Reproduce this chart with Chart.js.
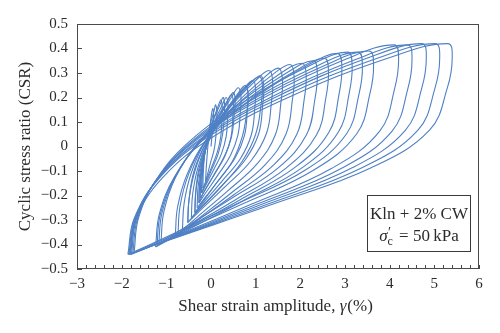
<!DOCTYPE html>
<html>
<head>
<meta charset="utf-8">
<script src="https://cdn.jsdelivr.net/npm/chart.js@4.4.1/dist/chart.umd.min.js"></script>
<style>
  html, body { margin: 0; padding: 0; background: #fff; }
  #wrap { width: 500px; height: 333px; }
</style>
</head>
<body>
<div id="wrap"><canvas id="c" width="500" height="333"></canvas></div>
<script>
// Undrained cyclic test, Kln + 2% CW at 50 kPa: CSR vs shear strain (%).
// Each cycle: negative peak, loading branch, positive peak, unloading branch.
const cycle00 = [[0.0,0.0],[0.03,0.06],[0.05,0.11],[0.055,0.14],[0.04,0.155],[0.01,0.13],[-0.03,0.07],[-0.07,0.0],[-0.1,-0.07],[-0.115,-0.115]];
const cycle01 = [[-0.12,-0.14],[-0.08,-0.115],[-0.01,-0.066],[0.07,-0.013],[0.11,0.043],[0.126,0.105],[0.13,0.148],[0.10,0.17],[0.07,0.146],[-0.025,0.085],[-0.10,0.017],[-0.15,-0.048],[-0.174,-0.112]];
const cycle02 = [[-0.18,-0.17],[-0.115,-0.141],[0.014,-0.084],[0.143,-0.022],[0.22,0.042],[0.244,0.114],[0.25,0.165],[0.22,0.19],[0.158,0.163],[0.02,0.095],[-0.095,0.019],[-0.164,-0.053],[-0.2,-0.125]];
const cycle02b = [[-0.21,-0.19],[-0.14,-0.16],[0.0,-0.1],[0.16,-0.03],[0.26,0.05],[0.3,0.13],[0.3,0.18],[0.27,0.2],[0.2,0.17],[0.04,0.1],[-0.09,0.02],[-0.17,-0.07],[-0.205,-0.15]];
const cycle03 = [[-0.21,-0.19],[-0.121,-0.159],[0.056,-0.096],[0.233,-0.03],[0.339,0.04],[0.371,0.118],[0.38,0.173],[0.34,0.20],[0.256,0.171],[0.07,0.098],[-0.085,0.016],[-0.178,-0.062],[-0.228,-0.14]];
const cycle04 = [[-0.24,-0.21],[-0.129,-0.176],[0.093,-0.109],[0.315,-0.038],[0.448,0.038],[0.489,0.122],[0.50,0.181],[0.45,0.21],[0.346,0.179],[0.115,0.10],[-0.078,0.012],[-0.193,-0.072],[-0.255,-0.155]];
const cycle04b = [[-0.27,-0.23],[-0.17,-0.19],[0.05,-0.12],[0.3,-0.04],[0.46,0.04],[0.52,0.13],[0.54,0.19],[0.5,0.22],[0.38,0.19],[0.12,0.11],[-0.08,0.02],[-0.2,-0.08],[-0.26,-0.17]];
const cycle05 = [[-0.27,-0.23],[-0.129,-0.192],[0.153,-0.117],[0.435,-0.037],[0.604,0.047],[0.656,0.141],[0.67,0.207],[0.61,0.24],[0.474,0.206],[0.18,0.118],[-0.065,0.02],[-0.212,-0.074],[-0.29,-0.167]];
const cycle06 = [[-0.31,-0.25],[-0.139,-0.21],[0.203,-0.13],[0.545,-0.045],[0.75,0.045],[0.813,0.145],[0.83,0.215],[0.77,0.25],[0.592,0.214],[0.235,0.12],[-0.062,0.016],[-0.241,-0.083],[-0.336,-0.182]];
const cycle06b = [[-0.36,-0.27],[-0.2,-0.23],[0.12,-0.15],[0.48,-0.06],[0.7,0.04],[0.8,0.14],[0.83,0.21],[0.78,0.245],[0.6,0.21],[0.22,0.12],[-0.07,0.02],[-0.27,-0.09],[-0.35,-0.2]];
const cycle07 = [[-0.36,-0.27],[-0.156,-0.227],[0.252,-0.14],[0.66,-0.049],[0.905,0.049],[0.98,0.157],[1.0,0.232],[0.94,0.27],[0.712,0.231],[0.28,0.13],[-0.08,0.018],[-0.296,-0.088],[-0.411,-0.195]];
const cycle08 = [[-0.44,-0.29],[-0.197,-0.244],[0.289,-0.151],[0.775,-0.052],[1.067,0.052],[1.156,0.168],[1.18,0.249],[1.11,0.29],[0.84,0.248],[0.33,0.14],[-0.095,0.02],[-0.35,-0.094],[-0.486,-0.208]];
const cycle08b = [[-0.52,-0.31],[-0.3,-0.265],[0.2,-0.17],[0.7,-0.06],[1.0,0.05],[1.12,0.17],[1.15,0.25],[1.08,0.285],[0.8,0.245],[0.3,0.14],[-0.1,0.02],[-0.38,-0.1],[-0.5,-0.23]];
const cycle09 = [[-0.52,-0.31],[-0.235,-0.26],[0.335,-0.161],[0.905,-0.056],[1.247,0.056],[1.352,0.18],[1.38,0.267],[1.30,0.31],[0.976,0.265],[0.37,0.148],[-0.135,0.018],[-0.438,-0.106],[-0.6,-0.229]];
const cycle10 = [[-0.64,-0.34],[-0.304,-0.287],[0.368,-0.182],[1.04,-0.069],[1.443,0.049],[1.566,0.181],[1.60,0.274],[1.51,0.32],[1.132,0.272],[0.43,0.15],[-0.155,0.014],[-0.506,-0.115],[-0.693,-0.244]];
const cycle11 = [[-0.74,-0.36],[-0.35,-0.304],[0.43,-0.193],[1.21,-0.075],[1.678,0.05],[1.821,0.189],[1.86,0.286],[1.77,0.335],[1.328,0.286],[0.53,0.16],[-0.135,0.02],[-0.534,-0.113],[-0.747,-0.246]];
const cycle12 = [[-0.80,-0.365],[-0.36,-0.309],[0.519,-0.196],[1.398,-0.076],[1.925,0.051],[2.086,0.192],[2.13,0.291],[2.04,0.34],[1.48,0.289],[0.505,0.158],[-0.308,0.012],[-0.795,-0.127],[-1.055,-0.266]];
const cycle13 = [[-1.12,-0.39],[-0.595,-0.331],[0.455,-0.212],[1.505,-0.087],[2.135,0.047],[2.328,0.195],[2.38,0.298],[2.29,0.35],[1.67,0.298],[0.605,0.163],[-0.283,0.013],[-0.815,-0.13],[-1.099,-0.272]];
const cycle14 = [[-1.17,-0.40],[-0.6,-0.339],[0.54,-0.218],[1.68,-0.088],[2.364,0.048],[2.573,0.2],[2.63,0.307],[2.54,0.36],[1.862,0.306],[0.71,0.169],[-0.25,0.016],[-0.826,-0.13],[-1.133,-0.275]];
const cycle15 = [[-1.21,-0.405],[-0.589,-0.342],[0.653,-0.217],[1.895,-0.083],[2.64,0.058],[2.868,0.215],[2.93,0.325],[2.83,0.38],[2.096,0.325],[0.845,0.183],[-0.198,0.025],[-0.823,-0.126],[-1.157,-0.276]];
const cycle16 = [[-1.24,-0.41],[-0.58,-0.346],[0.74,-0.219],[2.06,-0.084],[2.852,0.059],[3.094,0.218],[3.16,0.329],[3.06,0.385],[2.184,0.328],[0.72,0.181],[-0.5,0.018],[-1.232,-0.137],[-1.622,-0.291]];
const cycle17 = [[-1.72,-0.43],[-0.953,-0.365],[0.58,-0.234],[2.113,-0.096],[3.032,0.051],[3.313,0.214],[3.39,0.328],[3.29,0.385],[2.362,0.328],[0.82,0.18],[-0.465,0.016],[-1.236,-0.14],[-1.647,-0.296]];
const cycle18 = [[-1.75,-0.435],[-0.941,-0.369],[0.676,-0.237],[2.293,-0.097],[3.263,0.052],[3.559,0.217],[3.64,0.332],[3.54,0.39],[2.556,0.332],[0.93,0.183],[-0.425,0.017],[-1.238,-0.141],[-1.672,-0.299]];
const cycle19 = [[-1.78,-0.44],[-0.883,-0.372],[0.911,-0.235],[2.705,-0.089],[3.781,0.064],[4.11,0.235],[4.20,0.355],[4.10,0.415],[3.0,0.355],[1.2,0.201],[-0.3,0.03],[-1.2,-0.132],[-1.68,-0.295]];
const cycle20 = [[-1.80,-0.44],[-0.855,-0.372],[1.035,-0.235],[2.925,-0.089],[4.059,0.064],[4.406,0.235],[4.50,0.355],[4.40,0.415],[3.236,0.355],[1.34,0.201],[-0.24,0.03],[-1.188,-0.132],[-1.694,-0.295]];
const cycle21 = [[-1.82,-0.44],[-0.824,-0.371],[1.168,-0.234],[3.16,-0.087],[4.355,0.067],[4.72,0.239],[4.82,0.36],[4.72,0.42],[3.488,0.36],[1.49,0.205],[-0.175,0.033],[-1.174,-0.13],[-1.707,-0.294]];
const cycle22 = [[-1.84,-0.44],[-0.796,-0.371],[1.292,-0.234],[3.38,-0.087],[4.633,0.067],[5.016,0.239],[5.12,0.36],[5.02,0.42],[3.724,0.36],[1.63,0.205],[-0.115,0.033],[-1.162,-0.13],[-1.72,-0.294]];
const cycle23 = [[-1.86,-0.44],[-0.771,-0.371],[1.407,-0.234],[3.585,-0.087],[4.892,0.067],[5.291,0.239],[5.40,0.36],[5.30,0.42],[3.956,0.36],[1.79,0.205],[-0.015,0.033],[-1.098,-0.13],[-1.676,-0.294],[-1.82,-0.44]];

const cycles = [cycle00, cycle01, cycle02, cycle02b, cycle03, cycle04, cycle04b, cycle05,
  cycle06, cycle06b, cycle07, cycle08, cycle08b, cycle09, cycle10, cycle11, cycle12,
  cycle13, cycle14, cycle15, cycle16, cycle17, cycle18, cycle19, cycle20, cycle21,
  cycle22, cycle23];

const xTickValues = [-3, -2, -1, 0, 1, 2, 3, 4, 5, 6];
const yTickValues = [-0.5, -0.4, -0.3, -0.2, -0.1, 0, 0.1, 0.2, 0.3, 0.4, 0.5];
const boxLine1 = 'Kln + 2% CW';

// one dataset per cycle, each closed onto the next cycle's negative peak
const datasets = cycles.map((c, i) => {
  const pts = c.map(([x, y]) => ({ x, y }));
  const next = cycles[i + 1];
  if (next) pts.push({ x: next[0][0], y: next[0][1] });
  return {
    data: pts,
    showLine: true,
    borderColor: '#4f80c4',
    borderWidth: 1.1,
    pointRadius: 0,
    tension: 0.4,
    fill: false
  };
});

const SERIF = '"Liberation Serif", "DejaVu Serif", serif';
const INK = '#2b2b2b';

function fmt(v) {
  const r = Math.round(v * 10) / 10;
  if (r === 0) return '0';
  const s = Math.abs(r).toString();
  return (r < 0 ? '\u2212' : '') + s;
}

const decorations = {
  id: 'decorations',
  afterDatasetsDraw(chart) {
    const { ctx, chartArea: a, scales: { x, y } } = chart;
    ctx.save();
    ctx.strokeStyle = '#4a4a4a';
    ctx.lineWidth = 1;
    // frame
    ctx.strokeRect(Math.round(a.left) + 0.5, Math.round(a.top) + 0.5,
      Math.round(a.right - a.left) - 1, Math.round(a.bottom - a.top) - 1);
    // inward ticks on y
    ctx.beginPath();
    yTickValues.forEach(v => {
      const py = Math.round(y.getPixelForValue(v)) + 0.5;
      ctx.moveTo(a.left, py); ctx.lineTo(a.left + 5, py);
    });
    // inward minor ticks on x every 0.2
    for (let i = 0; i <= 45; i++) {
      const v = -3 + i * 0.2;
      const px = Math.round(x.getPixelForValue(v)) + 0.5;
      ctx.moveTo(px, a.bottom); ctx.lineTo(px, a.bottom - 4);
    }
    ctx.stroke();

    // axis titles
    const fN = '17px ' + SERIF, fI = 'italic 17px ' + SERIF;
    ctx.fillStyle = INK;
    ctx.textBaseline = 'middle';
    ctx.font = '17px ' + SERIF;
    ctx.save();
    ctx.translate(26, (a.top + a.bottom) / 2);
    ctx.rotate(-Math.PI / 2);
    ctx.textAlign = 'center';
    ctx.fillText('Cyclic stress ratio (CSR)', 0, 0);
    ctx.restore();

    const t1 = 'Shear strain amplitude, ', t2 = '\u03B3', t3 = '(%)';
    ctx.font = fN; const w1 = ctx.measureText(t1).width, w3 = ctx.measureText(t3).width;
    ctx.font = fI; const w2 = ctx.measureText(t2).width;
    let sx = 275 - (w1 + w2 + w3) / 2;
    const ty = 307;
    ctx.textAlign = 'left';
    ctx.font = fN; ctx.fillText(t1, sx, ty); sx += w1;
    ctx.font = fI; ctx.fillText(t2, sx, ty); sx += w2 + 1;
    ctx.font = fN; ctx.fillText(t3, sx, ty);

    // legend box
    const bx = a.right - 111.5, by = a.top + 171.5, bw = 103, bh = 56;
    ctx.fillStyle = '#fff';
    ctx.fillRect(bx, by, bw, bh);
    ctx.strokeStyle = '#3a3a3a';
    ctx.strokeRect(bx, by, bw, bh);
    ctx.fillStyle = INK;
    ctx.textAlign = 'center';
    ctx.textBaseline = 'alphabetic';
    ctx.font = fN;
    const cx = bx + bw / 2;
    ctx.fillText(boxLine1, cx, by + 23);

    // second line: σ′c = 50 kPa
    const pS = '\u03C3', pP = '\u2032', pC = 'c', pR = ' = 50\u2009kPa';
    ctx.font = fI; const ws = ctx.measureText(pS).width;
    ctx.font = '12px ' + SERIF; const wc = ctx.measureText(pC).width;
    ctx.font = fN; const wr = ctx.measureText(pR).width;
    const total = ws + wc + 2 + wr;
    let lx = cx - total / 2;
    const base = by + 45;
    ctx.textAlign = 'left';
    ctx.font = fI; ctx.fillText(pS, lx, base);
    ctx.font = '14px ' + SERIF; ctx.fillText(pP, lx + ws + 0.5, base - 4);
    ctx.font = '12px ' + SERIF; ctx.fillText(pC, lx + ws, base + 4);
    lx += ws + wc + 2;
    ctx.font = fN; ctx.fillText(pR, lx, base);
    ctx.restore();
  }
};

new Chart(document.getElementById('c'), {
  type: 'scatter',
  data: { datasets },
  options: {
    responsive: false,
    animation: false,
    devicePixelRatio: 1,
    layout: { padding: { top: 24, right: 21, left: 0, bottom: 0 } },
    plugins: { legend: { display: false }, tooltip: { enabled: false } },
    scales: {
      x: {
        type: 'linear', min: -3, max: 6,
        afterFit(s) { s.height = 64; },
        afterBuildTicks(s) { s.ticks = xTickValues.map(v => ({ value: v })); },
        grid: { display: false, drawTicks: false },
        border: { display: false },
        ticks: { color: INK, padding: 6, font: { family: SERIF, size: 15 }, callback: v => fmt(v) }
      },
      y: {
        type: 'linear', min: -0.5, max: 0.5,
        afterFit(s) { s.width = 77; },
        afterBuildTicks(s) { s.ticks = yTickValues.map(v => ({ value: v })); },
        grid: { display: false, drawTicks: false },
        border: { display: false },
        ticks: { color: INK, padding: 9, font: { family: SERIF, size: 15 }, callback: v => fmt(v) }
      }
    }
  },
  plugins: [decorations]
});
</script>
</body>
</html>
